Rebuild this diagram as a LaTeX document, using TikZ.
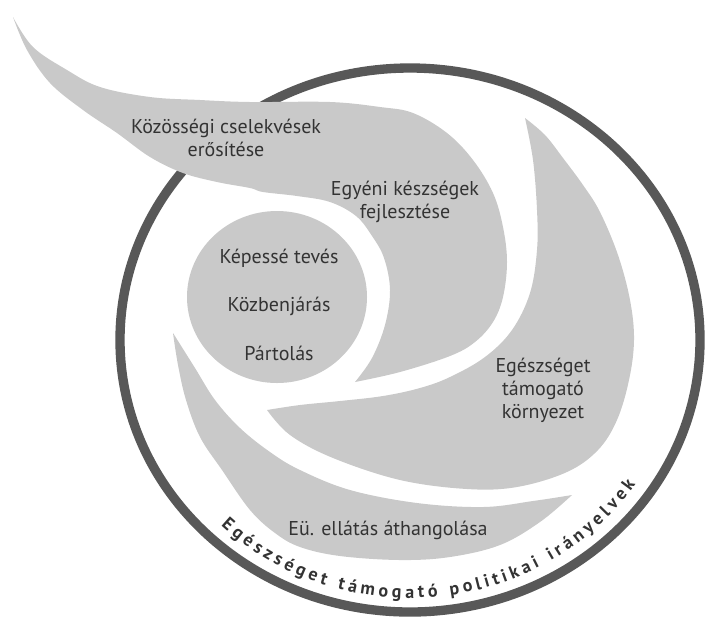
\documentclass[tikz,border=0pt]{standalone}
\usepackage{fontspec}
\setmainfont{PT Sans}
\usetikzlibrary{decorations.text}

\definecolor{leafgray}{HTML}{C9C9C9}
\definecolor{ringgray}{HTML}{585858}
\definecolor{inkgray}{HTML}{333333}

\begin{document}
\begin{tikzpicture}[
    x=0.75pt, y=-0.75pt,
    font=\fontsize{15}{17.25}\selectfont,
    leaf/.style={fill=leafgray},
    label/.style={text=inkgray, align=center, inner sep=0pt},
    ring/.style={draw=ringgray, line width=7pt}
]
\useasboundingbox (0,0) rectangle (705,619);

% outer ring
\draw[ring] (410,340) ellipse [x radius=290, y radius=272];

% wing wrapping round the centre
\fill[leaf] plot[smooth, tension=0.6] coordinates {(13,17) (33,47) (67,70) (100,87) (150,97) (200,100) (250,102) (330,102) (380,107) (413,113) (447,133) (473,160) (493,193) (503,227) (507,262) (503,297) (493,322) (475,342) (450,356) (400,372) (355,382)}
    -- plot[smooth, tension=0.6] coordinates {(355,382) (372,358) (385,325) (390,290) (384,258) (372,236) (356,216) (330,202) (297,196) (263,192) (250,188) (217,182) (183,173) (150,157) (117,133) (83,110) (50,83) (27,50) (13,17)}
    -- cycle;

% right crescent
\fill[leaf] plot[smooth, tension=0.6] coordinates {(525,118) (545,135) (563,158) (583,185) (600,212) (618,255) (630,300) (634,340) (629,380) (617,420) (598,450) (567,472) (517,487) (467,489) (400,480) (333,458) (290,435) (267,410)}
    -- plot[smooth, tension=0.6] coordinates {(267,410) (300,405) (340,401) (383,396) (420,388) (450,377) (485,357) (512,330) (530,293) (537,250) (537,210) (533,160) (525,118)}
    -- cycle;

% bottom crescent
\fill[leaf] plot[smooth, tension=0.6] coordinates {(173,333) (178,365) (186,400) (200,437) (222,470) (250,510) (275,533) (300,547) (340,556) (400,560) (450,557) (500,545) (540,522) (572,495)}
    -- plot[smooth, tension=0.6] coordinates {(572,495) (533,501) (483,507) (417,503) (350,490) (300,470) (270,452) (240,428) (215,400) (195,368) (173,333)}
    -- cycle;

% centre
\fill[leaf] (277,297) ellipse [x radius=90, y radius=86];

% labels
\node[label] (community) at (226,138) {Közösségi cselekvések\\erősítése};
\node[label] (skills) at (405,202) {Egyéni készségek\\fejlesztése};
\node[label] (enable) at (279,258) {Képessé tevés};
\node[label] (mediate) at (279,306) {Közbenjárás};
\node[label] (advocate) at (279,353) {Pártolás};
\node[label] (environment) at (543,390) {Egészséget\\támogató\\környezet};
\node[label] (services) at (388,530) {Eü. ellátás áthangolása};

% policy text along the ring
\path[decorate, decoration={text along path, text align=fit to path,
    text={|\fontsize{13.5}{13.5}\selectfont\bfseries\color{inkgray}|Egészséget támogató politikai irányelvek}}]
    (221,525.6) arc[start angle=134, end angle=34, x radius=272, y radius=258];
\end{tikzpicture}
\end{document}
